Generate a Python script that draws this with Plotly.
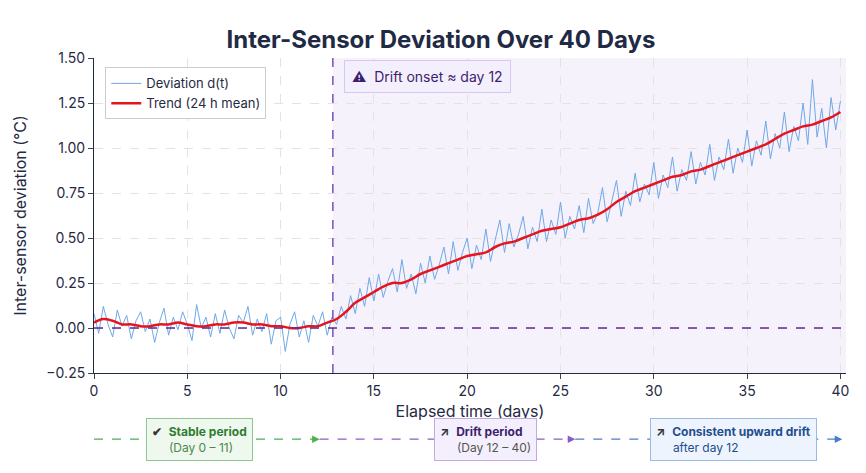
import plotly.graph_objects as go

# deviation sampled every 6 h (days 0..40)
dev_t = [i * 0.25 for i in range(161)]
dev_v = [
    0.08, -0.03, 0.12, 0.02, -0.05, 0.10, 0.01, 0.07, -0.06, 0.04, 0.09, -0.02,
    0.05, -0.08, 0.03, 0.11, -0.04, 0.06, -0.01, 0.09, 0.02, -0.07, 0.13, 0.00,
    0.06, -0.05, 0.08, -0.03, 0.10, 0.00, -0.06, 0.07, 0.03, 0.12, -0.04, 0.05,
    -0.02, 0.08, -0.09, 0.04, 0.06, -0.13, 0.02, 0.09, -0.05, 0.04, -0.08, 0.07,
    0.01, 0.09, -0.04, 0.06, 0.02, 0.12, 0.05, 0.18, 0.08, 0.22, 0.12, 0.28,
    0.15, 0.30, 0.17, 0.26, 0.33, 0.20, 0.38, 0.22, 0.30, 0.19, 0.36, 0.25,
    0.40, 0.27, 0.35, 0.45, 0.30, 0.48, 0.32, 0.42, 0.50, 0.33, 0.46, 0.38,
    0.55, 0.37, 0.49, 0.60, 0.42, 0.58, 0.45, 0.52, 0.62, 0.44, 0.56, 0.48,
    0.66, 0.48, 0.60, 0.52, 0.70, 0.50, 0.62, 0.55, 0.68, 0.53, 0.72, 0.58,
    0.64, 0.78, 0.59, 0.70, 0.82, 0.62, 0.76, 0.68, 0.86, 0.70, 0.80, 0.74,
    0.92, 0.72, 0.85, 0.78, 0.95, 0.76, 0.88, 0.82, 0.98, 0.80, 0.92, 0.85,
    1.02, 0.82, 0.95, 0.88, 1.05, 0.86, 1.00, 0.92, 1.10, 0.90, 1.04, 0.96,
    1.15, 0.94, 1.08, 1.00, 1.20, 0.98, 1.12, 1.04, 1.25, 1.02, 1.38, 1.06,
    1.22, 1.00, 1.28, 1.10, 1.26,
]

# 24 h rolling mean, every half day
trend_t = [i * 0.5 for i in range(81)]
trend_v = [
    0.03, 0.05, 0.04, 0.02, 0.02, 0.01, 0.01, 0.02, 0.02, 0.03, 0.02, 0.01,
    0.01, 0.02, 0.02, 0.03, 0.03, 0.02, 0.02, 0.01, 0.01, 0.00, 0.00, 0.01,
    0.01, 0.03, 0.05, 0.09, 0.14, 0.17, 0.20, 0.23, 0.25, 0.25, 0.27, 0.30,
    0.32, 0.34, 0.36, 0.38, 0.40, 0.41, 0.42, 0.45, 0.47, 0.48, 0.50, 0.52,
    0.54, 0.55, 0.56, 0.58, 0.60, 0.61, 0.63, 0.66, 0.70, 0.73, 0.76, 0.78,
    0.80, 0.82, 0.84, 0.85, 0.87, 0.88, 0.90, 0.92, 0.94, 0.96, 0.98, 1.00,
    1.02, 1.05, 1.08, 1.10, 1.12, 1.13, 1.15, 1.17, 1.20,
]

onset_day = 12.8
purple = "#5b2d91"
flow_y = -0.21

fig = go.Figure()
fig.add_trace(go.Scatter(x=dev_t, y=dev_v, mode="lines", name="Deviation d(t)",
                         line=dict(color="#6fa8e8", width=1)))
fig.add_trace(go.Scatter(x=trend_t, y=trend_v, mode="lines", name="Trend (24 h mean)",
                         line=dict(color="#e8141c", width=2.5, shape="spline")))

fig.add_vrect(x0=onset_day, x1=40.3, fillcolor="#f6f2fc", opacity=1, layer="below", line_width=0)
fig.add_vline(x=onset_day, line=dict(color="#7a4fc0", dash="dash", width=1.5))
fig.add_shape(type="line", x0=0, x1=40.3, y0=0, y1=0, xref="x", yref="y",
              line=dict(color=purple, dash="dash", width=1.5))

fig.add_annotation(x=onset_day + 0.6, y=1.4, xanchor="left", showarrow=False,
                   text="<b>⚠</b>  Drift onset ≈ day 12", font=dict(size=14, color="#3d1f6e"),
                   bgcolor="#f4effc", bordercolor="#d8c8f0", borderwidth=1, borderpad=7)

# bottom flow: dashed arrows and boxes
segs = [(0.0, 0.30, "#4caf50"), (0.30, 0.64, "#8a5cc8"), (0.64, 0.995, "#4a7fc8")]
for x0, x1, c in segs:
    fig.add_shape(type="line", xref="paper", yref="paper", x0=x0, x1=x1 - 0.005,
                  y0=flow_y, y1=flow_y, line=dict(color=c, dash="dash", width=1.2))
    fig.add_annotation(x=x1, y=flow_y, ax=x1 - 0.012, ay=flow_y, xref="x domain", yref="y domain",
                       axref="x domain", ayref="y domain", showarrow=True, arrowhead=2,
                       arrowsize=1, arrowwidth=1.5, arrowcolor=c, text="")

boxes = [
    (0.14, "<b>✔</b>  <span style='color:#2e7d32'><b>Stable period</b></span><br>     <span style='color:#4a8a4a'>(Day 0 – 11)</span>", "#eef8ee", "#8cc98c"),
    (0.52, "<b>↗</b>  <span style='color:#3d1f6e'><b>Drift period</b></span><br>     <span style='color:#555'>(Day 12 – 40)</span>", "#f4effc", "#c4a8e8"),
    (0.85, "<b>↗</b>  <span style='color:#1f4e8f'><b>Consistent upward drift</b></span><br>     <span style='color:#1f4e8f'>after day 12</span>", "#eef4fd", "#9bbbe6"),
]
for x, txt, bg, bc in boxes:
    fig.add_annotation(x=x, y=flow_y, xref="paper", yref="paper", showarrow=False,
                       xanchor="center", yanchor="middle",
                       text=txt, align="left", font=dict(size=12, color="#333"),
                       bgcolor=bg, bordercolor=bc, borderwidth=1, borderpad=5)

fig.update_layout(
    width=866, height=473,
    margin=dict(l=84, r=28, t=50, b=108),
    paper_bgcolor="white", plot_bgcolor="white",
    font=dict(family="Inter, Noto Sans, sans-serif", color="#1f2a44"),
    title=dict(text="<b>Inter-Sensor Deviation Over 40 Days</b>", x=0.5, y=0.95,
               xanchor="center", font=dict(size=24, color="#1f2a44")),
    legend=dict(x=0.015, y=0.97, xanchor="left", yanchor="top", bgcolor="white",
                bordercolor="#cccccc", borderwidth=1, font=dict(size=13)),
    xaxis=dict(range=[0, 40.3], dtick=5,
               title=dict(text="Elapsed time (days)", font=dict(size=16), standoff=8),
               showgrid=True, gridcolor="#e3e3e3", griddash="dash", zeroline=False,
               ticks="outside", tickfont=dict(size=14), showline=True, linecolor="#1f2a44"),
    yaxis=dict(range=[-0.25, 1.5], dtick=0.25, tickformat=".2f",
               title=dict(text="Inter-sensor deviation (°C)", font=dict(size=16)),
               showgrid=True, gridcolor="#e3e3e3", griddash="dash", zeroline=False,
               ticks="outside", tickfont=dict(size=14), showline=True, linecolor="#1f2a44"),
)

fig.write_html("out.html")
